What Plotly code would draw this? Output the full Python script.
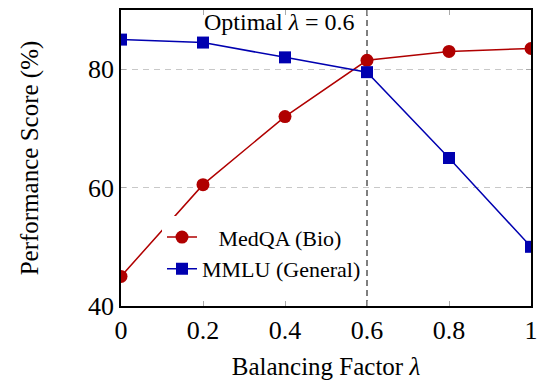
import plotly.graph_objects as go

lam = [0, 0.2, 0.4, 0.6, 0.8, 1.0]
medqa = [45, 60.5, 72, 81.5, 83, 83.5]
mmlu = [85, 84.5, 82, 79.5, 65, 50]
x_ticks = [0, 0.2, 0.4, 0.6, 0.8, 1]
x_tick_labels = ["0", "0.2", "0.4", "0.6", "0.8", "1"]
y_ticks = [40, 60, 80]
optimal = 0.6

RED = "#b00000"
BLUE = "#0000b0"
FONT = "Liberation Serif"

fig = go.Figure()
fig.add_trace(go.Scatter(x=lam, y=medqa, mode="lines+markers", name="   MedQA (Bio)",
                         line=dict(color=RED, width=1.5),
                         marker=dict(symbol="circle", size=13, color=RED)))
fig.add_trace(go.Scatter(x=lam, y=mmlu, mode="lines+markers", name="MMLU (General)",
                         line=dict(color=BLUE, width=1.5),
                         marker=dict(symbol="square", size=12, color=BLUE)))

fig.add_shape(type="line", x0=optimal, x1=optimal, y0=0, y1=1, xref="x", yref="paper",
              line=dict(color="#555555", width=1.5, dash="6px,4px"), layer="below")
fig.add_annotation(x=optimal, y=1, xref="x", yref="paper", xanchor="right", yanchor="top",
                   xshift=-10, yshift=3, text="Optimal <i>λ</i> = 0.6", showarrow=False,
                   font=dict(family=FONT, size=24, color="black"))

fig.update_layout(
    width=538, height=383,
    margin=dict(l=121, r=7, t=10, b=77, autoexpand=False),
    paper_bgcolor="white", plot_bgcolor="white",
    font=dict(family=FONT, size=25, color="black"),
    legend=dict(x=0.1, y=0.303, xanchor="left", yanchor="top", bgcolor="white",
                font=dict(family=FONT, size=22), borderwidth=0, tracegroupgap=0),
    showlegend=True,
)
fig.update_xaxes(range=[0, 1], tickvals=x_ticks, ticktext=x_tick_labels,
                 showline=True, linecolor="black", linewidth=1.5, mirror="ticks",
                 ticks="inside", ticklen=5, tickcolor="#aaaaaa", showgrid=False, zeroline=False,
                 title=dict(text="Balancing Factor <i>λ</i>", standoff=14, font=dict(size=25)),
                 tickfont=dict(size=26), automargin=False)
fig.update_yaxes(range=[40, 90], tickvals=y_ticks,
                 showline=True, linecolor="black", linewidth=1.5, mirror="ticks",
                 ticks="inside", ticklen=5, tickcolor="#aaaaaa",
                 showgrid=True, gridcolor="#c8c8c8", griddash="6px,5px", gridwidth=1, zeroline=False,
                 title=dict(text="Performance Score (%)", standoff=42, font=dict(size=25)),
                 tickfont=dict(size=26), automargin=False)

fig.write_html("out.html", config={"displayModeBar": False},
               post_script="document.body.style.margin='0px';document.body.style.padding='0px';")
